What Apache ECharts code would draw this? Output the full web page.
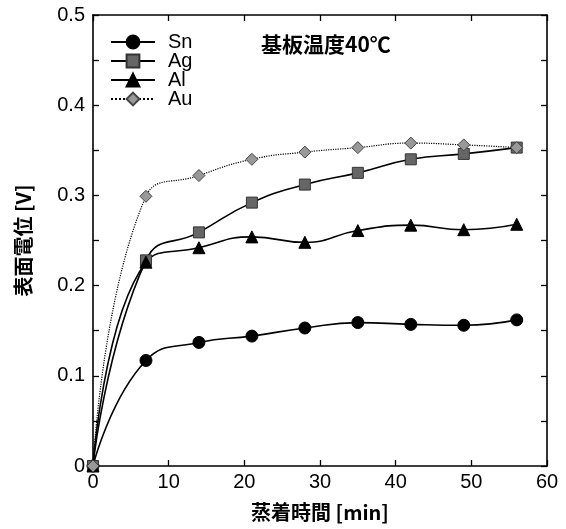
<!DOCTYPE html>
<html>
<head>
<meta charset="utf-8">
<script src="https://cdn.jsdelivr.net/npm/echarts@6/dist/echarts.min.js"></script>
<style>
  html, body { margin: 0; padding: 0; background: #fff; }
  #chart { width: 566px; height: 529px; }
</style>
</head>
<body>
<div id="chart"></div>
<script>
// Deposition time [min]
const times = [0, 7, 14, 21, 28, 35, 42, 49, 56];
// Surface potential [V] per deposited metal
const sn = [0, 0.117, 0.137, 0.144, 0.153, 0.159, 0.157, 0.156, 0.162];
const ag = [0, 0.228, 0.259, 0.292, 0.312, 0.325, 0.340, 0.346, 0.353];
const al = [0, 0.226, 0.242, 0.254, 0.248, 0.261, 0.267, 0.262, 0.268];
const au = [0, 0.299, 0.322, 0.340, 0.348, 0.353, 0.358, 0.356, 0.353];
const xTicks = [0, 10, 20, 30, 40, 50, 60];
const yTicks = [0, 0.1, 0.2, 0.3, 0.4, 0.5];

const latin = '"Liberation Sans", Arial, sans-serif';
const cjk = '"Noto Sans CJK JP", "Liberation Sans", sans-serif';

const pair = (ys) => times.map((t, i) => [t, ys[i]]);

function series(name, ys, symbol, size, fill, border, lineType, lineWidth) {
  return {
    name: name,
    type: 'line',
    data: pair(ys),
    smooth: 0.5,
    symbol: symbol,
    symbolSize: size,
    showAllSymbol: true,
    lineStyle: { color: '#000', width: lineWidth, type: lineType },
    itemStyle: { color: fill, borderColor: border, borderWidth: 1, opacity: 1 },
    emphasis: { disabled: true },
    z: 3
  };
}

const frameLine = { show: true, onZero: false, lineStyle: { color: '#000', width: 1.6 } };
const tickStyle = { show: true, inside: true, length: 6, lineStyle: { color: '#000', width: 1.3 } };
const minorStyle = { show: true, splitNumber: 2, length: 6, lineStyle: { color: '#000', width: 1.3 } };

const chart = echarts.init(document.getElementById('chart'), null, { renderer: 'canvas' });
chart.setOption({
  animation: false,
  backgroundColor: '#fff',
  grid: { left: 93, right: 19, top: 15, bottom: 63, containLabel: false },
  legend: {
    orient: 'vertical',
    left: 105,
    top: 27,
    itemWidth: 44,
    itemHeight: 16,
    itemGap: -1,
    textStyle: { fontFamily: latin, fontSize: 20, color: '#000', padding: [0, 0, 0, 8] },
    data: ['Sn', 'Ag', 'Al', 'Au']
  },
  graphic: [{
    type: 'text',
    left: 261,
    top: 34,
    style: { text: '基板温度40℃', font: 'bold 21px ' + cjk, fill: '#000' }
  }],
  xAxis: [{
    type: 'value',
    min: xTicks[0],
    max: xTicks[xTicks.length - 1],
    interval: 10,
    name: '蒸着時間 [min]',
    nameLocation: 'middle',
    nameGap: 36,
    nameTextStyle: { fontFamily: cjk, fontWeight: 'bold', fontSize: 20, color: '#000' },
    axisLine: frameLine,
    axisTick: tickStyle,
    axisLabel: { fontFamily: latin, fontSize: 20, color: '#000', margin: 6 },
    splitLine: { show: false }
  }, {
    type: 'value',
    position: 'top',
    min: xTicks[0],
    max: xTicks[xTicks.length - 1],
    interval: 10,
    axisLine: frameLine,
    axisTick: tickStyle,
    axisLabel: { show: false },
    splitLine: { show: false }
  }],
  yAxis: [{
    type: 'value',
    min: yTicks[0],
    max: yTicks[yTicks.length - 1],
    interval: 0.1,
    name: '表面電位 [V]',
    nameLocation: 'middle',
    nameGap: 60,
    nameRotate: 90,
    nameTextStyle: { fontFamily: cjk, fontWeight: 'bold', fontSize: 20, color: '#000' },
    axisLine: frameLine,
    axisTick: tickStyle,
    minorTick: minorStyle,
    axisLabel: { fontFamily: latin, fontSize: 20, color: '#000', margin: 8 },
    splitLine: { show: false }
  }, {
    type: 'value',
    position: 'right',
    min: yTicks[0],
    max: yTicks[yTicks.length - 1],
    interval: 0.1,
    axisLine: frameLine,
    axisTick: tickStyle,
    minorTick: minorStyle,
    axisLabel: { show: false },
    splitLine: { show: false }
  }],
  series: [
    series('Sn', sn, 'circle', 12, '#000', '#000', 'solid', 1.6),
    series('Ag', ag, 'rect', 11, '#666', '#333', 'solid', 1.6),
    series('Al', al, 'triangle', 12, '#000', '#000', 'solid', 1.6),
    series('Au', au, 'diamond', 12, '#999', '#444', 'dotted', 1.2)
  ]
});
</script>
</body>
</html>
